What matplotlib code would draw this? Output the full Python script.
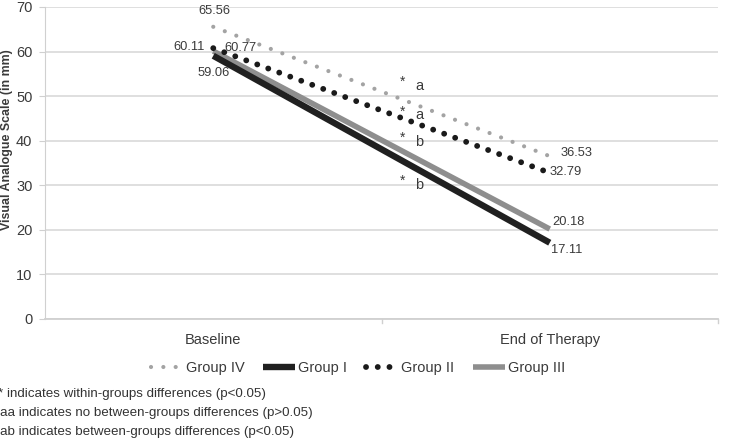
import matplotlib
matplotlib.use("Agg")
import matplotlib.pyplot as plt

plt.rcParams['font.family'] = ['Liberation Sans', 'DejaVu Sans']

categories = ["Baseline", "End of Therapy"]
groups = ["Group IV", "Group I", "Group II", "Group III"]
values = {
    "Group IV": [65.56, 36.53],
    "Group I": [59.06, 17.11],
    "Group II": [60.77, 32.79],
    "Group III": [60.11, 20.18],
}
yticks = [0, 10, 20, 30, 40, 50, 60, 70]
sig_marks = [("*", "a", 52.3), ("*", "a", 45.7), ("*", "b", 39.7), ("*", "b", 30.1)]
footnotes = ["* indicates within-groups differences (p<0.05)",
             "aa indicates no between-groups differences (p>0.05)",
             "ab indicates between-groups differences (p<0.05)"]

styles = {
    "Group IV": dict(color="#a3a3a3", lw=3.0, ls=(0, (0.01, 2.95)), cap="round"),
    "Group I": dict(color="#202020", lw=4.6, ls="-", cap="butt"),
    "Group II": dict(color="#1a1a1a", lw=4.2, ls=(0, (0.01, 2.0)), cap="round"),
    "Group III": dict(color="#8e8e8e", lw=4.0, ls="-", cap="butt"),
}

W, H = 729, 445
fig = plt.figure(figsize=(W/100, H/100), dpi=100)
ax = fig.add_axes([45/W, 1-319/H, 673/W, 312/H])

x = [0, 1]
order = ["Group III", "Group I", "Group II", "Group IV"]
handles = {}
for g in order:
    s = styles[g]
    h, = ax.plot(x, values[g], color=s["color"], lw=s["lw"], linestyle=s["ls"],
                 dash_capstyle=s["cap"], solid_capstyle=s["cap"], label=g, zorder=3)
    handles[g] = h

ax.set_xlim(-0.5, 1.5)
ax.set_ylim(0, 70)
ax.set_yticks(yticks)
ax.set_xticks(x)
ax.set_xticklabels(categories)
ax.grid(axis="y", color="#d9d9d9", lw=1.2)
ax.set_axisbelow(True)
for sp in ["top", "right"]:
    ax.spines[sp].set_visible(False)
ax.spines["left"].set_color("#d0d0d0")
ax.spines["bottom"].set_color("#d0d0d0")
ax.spines["bottom"].set_linewidth(1.3)
ax.tick_params(axis="y", colors="#d0d0d0", labelcolor="#3a3a3a", labelsize=10.5,
               length=4, pad=5)
ax.tick_params(axis="x", length=0, labelcolor="#3a3a3a", labelsize=10.5, pad=10)
for xv in (0.5, 1.5):
    ax.plot([xv, xv], [0, -0.8], color="#d0d0d0", lw=1, clip_on=False)

# y-axis title, sized so that it spans about 180 px like the reference
ylab = fig.text(7/W, 1-140/H, "Visual Analogue Scale (in mm)", rotation=90, fontsize=9,
                fontweight="bold", color="#3a3a3a", ha="center", va="center")
fig.canvas.draw()
ext = ylab.get_window_extent(renderer=fig.canvas.get_renderer())
ylab.set_fontsize(9 * 180.0 / ext.height)

lab_kw = dict(fontsize=9.3, color="#3a3a3a", ha="center", va="center",
              textcoords="offset points")
offsets = {
    ("Group IV", 0): (0.7, 11.5),
    ("Group III", 0): (-17.5, 3.0),
    ("Group II", 0): (19.4, 0.0),
    ("Group I", 0): (0.0, -12.2),
    ("Group IV", 1): (19.4, 2.2),
    ("Group II", 1): (11.8, 0.7),
    ("Group III", 1): (13.7, 5.0),
    ("Group I", 1): (12.2, -5.0),
}
for (g, i), off in offsets.items():
    ax.annotate(f"{values[g][i]:.2f}", (x[i], values[g][i]), xytext=off, **lab_kw)

for star, letter, yv in sig_marks:
    ax.text(0.5625, yv + 0.9, star, fontsize=10, color="#3a3a3a", ha="center", va="center")
    ax.text(0.612, yv, letter, fontsize=10.5, color="#3a3a3a", ha="center", va="center")

leg = fig.legend([handles[g] for g in groups], groups, loc="center",
                 bbox_to_anchor=(358/W, 1-368/H), ncol=4, frameon=False,
                 fontsize=10.5, handlelength=2.2, handletextpad=0.2, columnspacing=1.3)
for t in leg.get_texts():
    t.set_color("#3a3a3a")

fy = [394, 413, 432]
fx = [-2, 0, 0]
for txt, xx, yy in zip(footnotes, fx, fy):
    fig.text(xx/W, 1-yy/H, txt, fontsize=9.6, color="#333333", va="center", ha="left")

fig.savefig("out.png", dpi=100)
